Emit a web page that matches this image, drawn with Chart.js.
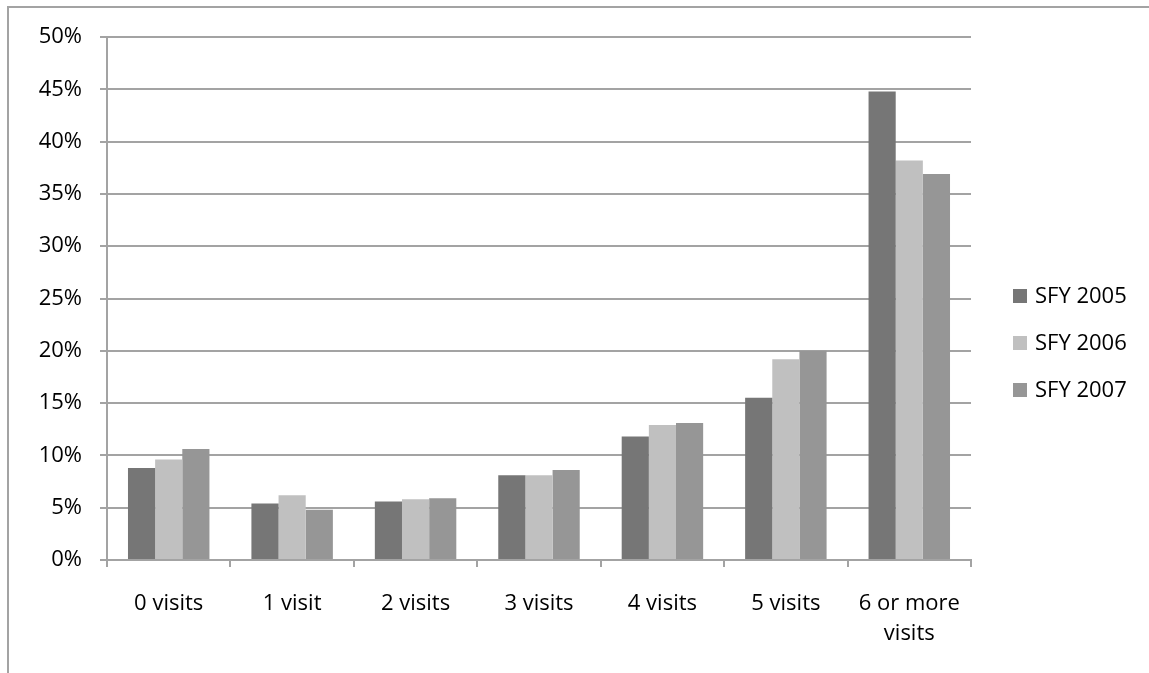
<!DOCTYPE html>
<html>
<head>
<meta charset="utf-8">
<script src="https://cdn.jsdelivr.net/npm/chart.js@4/dist/chart.umd.min.js"></script>
<style>
  html, body { margin: 0; padding: 0; background: #ffffff; }
  #wrap { position: relative; width: 1149px; height: 673px; overflow: hidden; }
  #frame { position: absolute; left: 7px; top: 6px; width: 1200px; height: 800px;
           border: 2px solid #a3a3a3; box-sizing: border-box; }
  canvas { position: absolute; left: 0; top: 0; }
</style>
</head>
<body>
<div id="wrap">
  <div id="frame"></div>
  <canvas id="chart" width="1149" height="673"></canvas>
</div>
<script>
// Share of members by number of visits, per state fiscal year (percent)
const categories = ['0 visits', '1 visit', '2 visits', '3 visits', '4 visits', '5 visits', ['6 or more', 'visits']];
const seriesNames = ['SFY 2005', 'SFY 2006', 'SFY 2007'];
const sfy2005 = [8.8, 5.4, 5.6, 8.1, 11.8, 15.5, 44.8];
const sfy2006 = [9.6, 6.2, 5.8, 8.1, 12.9, 19.2, 38.2];
const sfy2007 = [10.6, 4.8, 5.9, 8.6, 13.1, 20.0, 36.9];
const seriesColors = ['#767676', '#c0c0c0', '#969696'];
const yTicks = [0, 5, 10, 15, 20, 25, 30, 35, 40, 45, 50];

const FONT = '"Open Sans", "Liberation Sans", sans-serif';
const AXIS_GRAY = '#a3a3a3';

// Legend drawn as a stacked list to the right of the plot
const sideLegend = {
  id: 'sideLegend',
  afterDraw(chart) {
    const ctx = chart.ctx;
    ctx.save();
    ctx.font = '22px ' + FONT;
    ctx.textBaseline = 'middle';
    ctx.textAlign = 'left';
    chart.data.datasets.forEach((ds, i) => {
      const cy = 296 + i * 47;
      ctx.fillStyle = ds.backgroundColor;
      ctx.fillRect(1013, cy - 7, 14, 14);
      ctx.fillStyle = '#000000';
      ctx.fillText(ds.label, 1035, cy + 1);
    });
    ctx.restore();
  }
};

const seriesData = [sfy2005, sfy2006, sfy2007];

new Chart(document.getElementById('chart'), {
  type: 'bar',
  data: {
    labels: categories,
    datasets: seriesNames.map((name, i) => ({
      label: name,
      data: seriesData[i],
      backgroundColor: seriesColors[i],
      borderWidth: 0,
      categoryPercentage: 0.66,
      barPercentage: 1.0
    }))
  },
  options: {
    responsive: false,
    animation: false,
    devicePixelRatio: 1,
    layout: { padding: { top: 37, right: 178, left: 0, bottom: 0 } },
    plugins: {
      legend: { display: false },
      tooltip: { enabled: false },
      title: { display: false }
    },
    scales: {
      x: {
        offset: true,
        grid: {
          offset: true,
          drawOnChartArea: false,
          drawTicks: true,
          tickLength: 7,
          color: AXIS_GRAY,
          lineWidth: 2
        },
        border: { display: true, color: AXIS_GRAY, width: 2 },
        ticks: {
          color: '#000000',
          font: { family: FONT, size: 22, lineHeight: 1.35 },
          padding: 22,
          maxRotation: 0,
          autoSkip: false
        },
        afterFit(scale) { scale.height = 113; }
      },
      y: {
        min: 0,
        max: 50,
        afterBuildTicks(scale) { scale.ticks = yTicks.map(v => ({ value: v })); },
        grid: {
          color: AXIS_GRAY,
          lineWidth: 2,
          drawTicks: true,
          tickLength: 7
        },
        border: { display: true, color: AXIS_GRAY, width: 2 },
        ticks: {
          color: '#000000',
          font: { family: FONT, size: 22 },
          padding: 18,
          callback: v => v + '%'
        },
        afterFit(scale) { scale.width = 107; }
      }
    }
  },
  plugins: [sideLegend]
});
</script>
</body>
</html>
